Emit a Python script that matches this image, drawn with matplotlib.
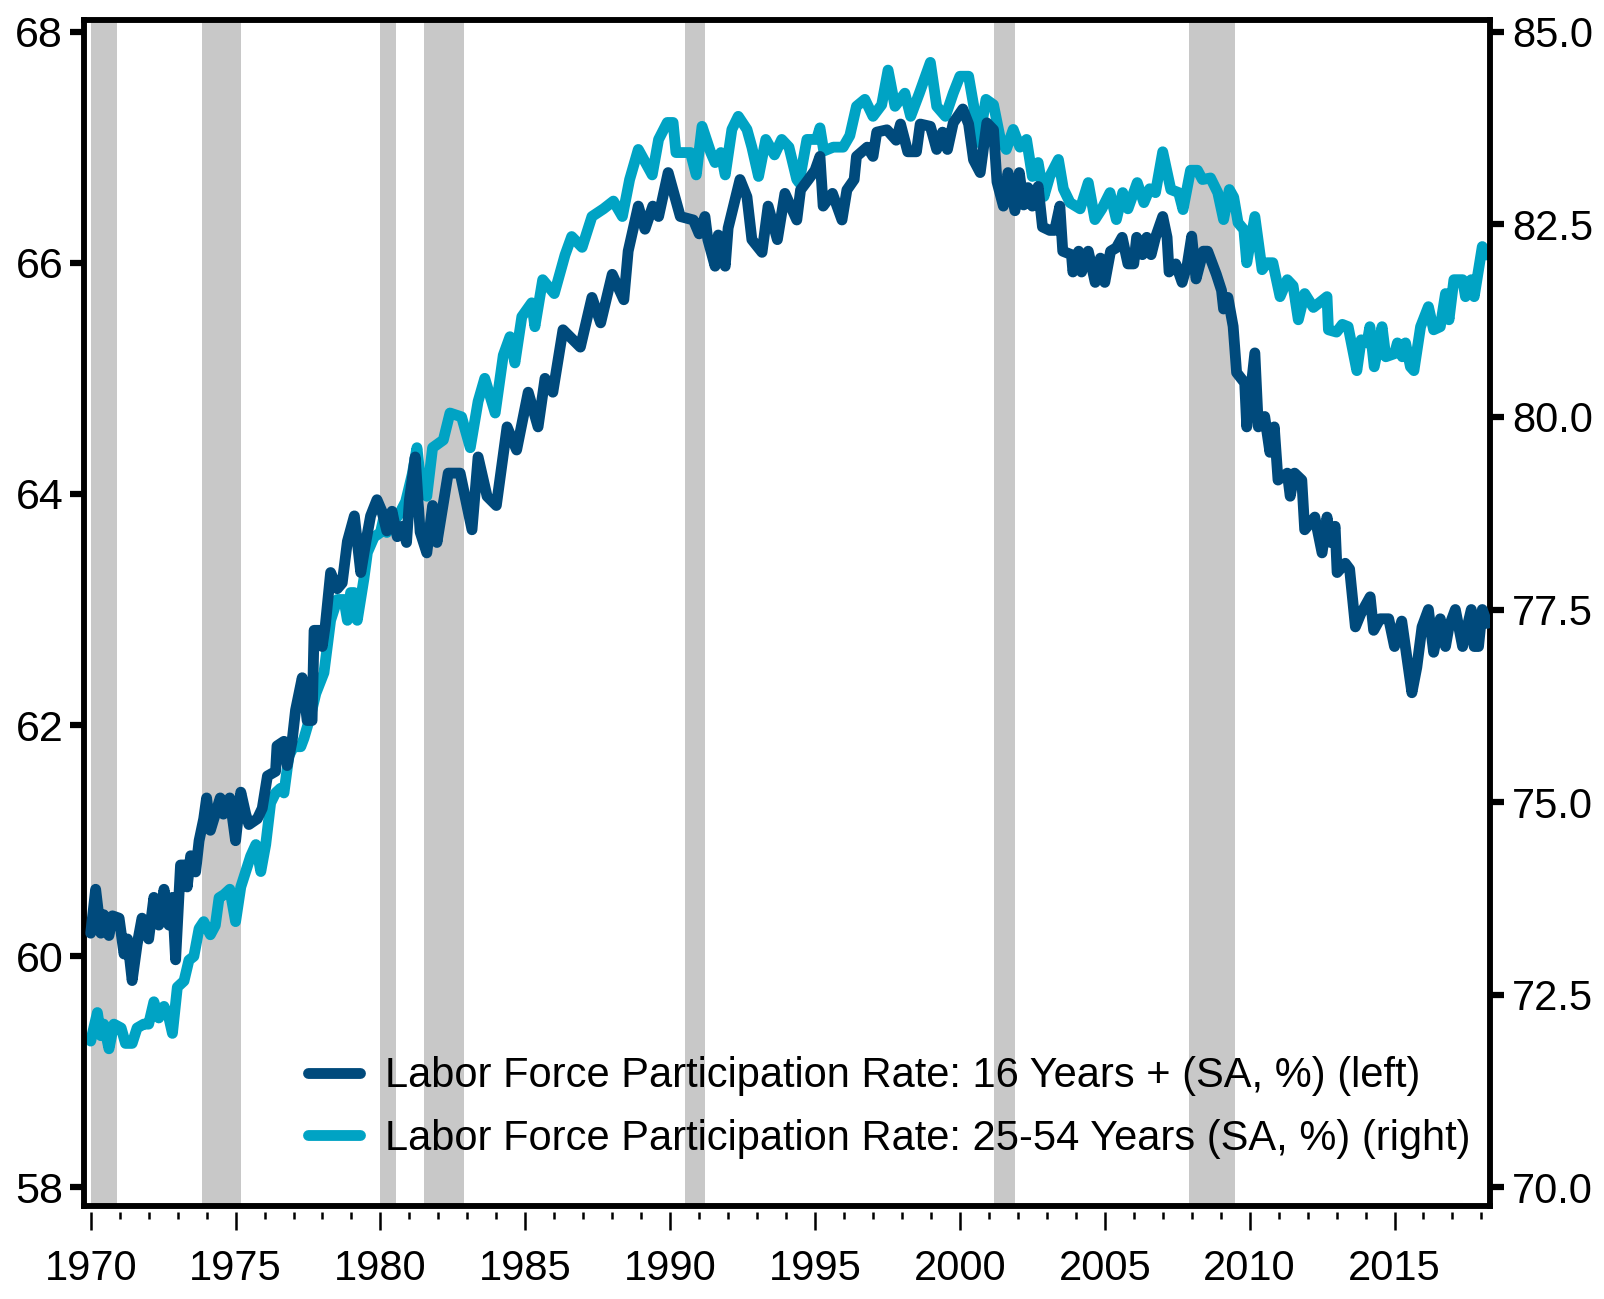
import numpy as np
import matplotlib
matplotlib.use('Agg')
import matplotlib.pyplot as plt
from matplotlib.ticker import MultipleLocator, FixedLocator, FormatStrFormatter

plt.rcParams['font.family'] = ['Liberation Sans', 'DejaVu Sans']

# labor force participation rate, 16 years + (left axis)
lfpr_all_years = [
    1970.0, 1970.17, 1970.35, 1970.45, 1970.63, 1970.75, 1970.98, 1971.15, 1971.27, 1971.43,
    1971.6, 1971.77, 1972.0, 1972.18, 1972.35, 1972.53, 1972.7, 1972.82, 1972.93, 1973.1,
    1973.27, 1973.33, 1973.45, 1973.62, 1973.74, 1973.9, 1974.0, 1974.13, 1974.3, 1974.47,
    1974.58, 1974.8, 1975.0, 1975.18, 1975.35, 1975.46, 1975.75, 1975.92, 1976.1, 1976.38,
    1976.43, 1976.67, 1976.78, 1976.95, 1977.07, 1977.3, 1977.47, 1977.64, 1977.71, 1977.88,
    1977.99, 1978.1, 1978.28, 1978.51, 1978.68, 1978.86, 1979.1, 1979.2, 1979.32, 1979.5,
    1979.66, 1979.88, 1980.05, 1980.22, 1980.4, 1980.58, 1980.75, 1980.9, 1981.0, 1981.2,
    1981.37, 1981.6, 1981.8, 1981.95, 1982.34, 1982.75, 1983.16, 1983.37, 1983.68, 1984.0,
    1984.37, 1984.7, 1985.1, 1985.44, 1985.68, 1985.95, 1986.3, 1986.9, 1987.3, 1987.6,
    1988.0, 1988.4, 1988.55, 1988.9, 1989.13, 1989.4, 1989.6, 1989.93, 1990.35, 1990.8,
    1991.0, 1991.2, 1991.3, 1991.55, 1991.66, 1991.9, 1992.0, 1992.41, 1992.65, 1992.82,
    1993.17, 1993.38, 1993.7, 1993.96, 1994.37, 1994.5, 1994.77, 1995.0, 1995.17, 1995.28,
    1995.6, 1995.93, 1996.1, 1996.35, 1996.43, 1996.8, 1997.0, 1997.13, 1997.48, 1997.8,
    1997.95, 1998.2, 1998.5, 1998.63, 1998.98, 1999.2, 1999.4, 1999.57, 1999.77, 2000.1,
    2000.3, 2000.47, 2000.7, 2000.93, 2001.16, 2001.28, 2001.5, 2001.66, 2001.9, 2002.05,
    2002.2, 2002.35, 2002.5, 2002.7, 2002.85, 2003.1, 2003.27, 2003.45, 2003.55, 2003.85,
    2003.9, 2004.1, 2004.2, 2004.43, 2004.67, 2004.85, 2005.0, 2005.2, 2005.4, 2005.6,
    2005.8, 2006.0, 2006.1, 2006.3, 2006.45, 2006.6, 2006.75, 2007.0, 2007.15, 2007.22,
    2007.45, 2007.67, 2007.85, 2008.0, 2008.15, 2008.4, 2008.55, 2008.85, 2009.03, 2009.1,
    2009.25, 2009.43, 2009.55, 2009.83, 2009.9, 2010.18, 2010.3, 2010.52, 2010.7, 2010.85,
    2010.98, 2011.3, 2011.4, 2011.55, 2011.8, 2011.9, 2012.25, 2012.5, 2012.67, 2012.8,
    2012.95, 2013.02, 2013.3, 2013.45, 2013.65, 2013.83, 2014.16, 2014.28, 2014.5, 2014.8,
    2015.0, 2015.25, 2015.42, 2015.6, 2015.77, 2015.95, 2016.17, 2016.35, 2016.58, 2016.76,
    2016.88, 2017.1, 2017.35, 2017.65, 2017.75, 2017.9, 2018.03, 2018.2]
lfpr_all = [
    60.2, 60.58, 60.2, 60.36, 60.18, 60.35, 60.33, 60.02, 60.15, 59.79,
    60.1, 60.33, 60.15, 60.51, 60.27, 60.58, 60.27, 60.51, 59.97, 60.79,
    60.79, 60.6, 60.87, 60.73, 61.0, 61.19, 61.37, 61.09, 61.23, 61.37,
    61.23, 61.37, 61.0, 61.42, 61.23, 61.14, 61.19, 61.28, 61.56, 61.6,
    61.82, 61.86, 61.65, 61.86, 62.13, 62.41, 62.04, 62.04, 62.82, 62.82,
    62.68, 62.87, 63.32, 63.18, 63.23, 63.59, 63.81, 63.59, 63.32, 63.59,
    63.81, 63.95, 63.85, 63.68, 63.85, 63.63, 63.72, 63.58, 63.95, 64.32,
    63.67, 63.49, 63.9, 63.58, 64.18, 64.18, 63.69, 64.32, 63.98, 63.9,
    64.58, 64.38, 64.88, 64.58, 65.0, 64.88, 65.42, 65.27, 65.7, 65.48,
    65.9, 65.68, 66.1, 66.49, 66.29, 66.49, 66.4, 66.78, 66.4, 66.37,
    66.25, 66.4, 66.2, 65.97, 66.24, 65.97, 66.3, 66.72, 66.57, 66.2,
    66.09, 66.49, 66.2, 66.6, 66.37, 66.63, 66.72, 66.8, 66.92, 66.49,
    66.6, 66.37, 66.63, 66.72, 66.92, 67.0, 66.92, 67.13, 67.15, 67.06,
    67.2, 66.96, 66.96, 67.2, 67.18, 66.98, 67.13, 66.98, 67.21, 67.33,
    67.2, 66.89, 66.78, 67.21, 67.15, 66.7, 66.49, 66.78, 66.45, 66.78,
    66.5, 66.65, 66.49, 66.66, 66.31, 66.28, 66.28, 66.49, 66.1, 66.07,
    65.92, 66.1, 65.92, 66.1, 65.83, 66.04, 65.83, 66.1, 66.13, 66.22,
    65.99, 65.99, 66.22, 66.07, 66.22, 66.07, 66.22, 66.4, 66.22, 65.92,
    65.99, 65.83, 65.99, 66.23, 65.86, 66.1, 66.1, 65.9, 65.76, 65.6,
    65.7, 65.45, 65.05, 64.96, 64.58, 65.22, 64.58, 64.67, 64.36, 64.58,
    64.12, 64.18, 63.98, 64.18, 64.12, 63.69, 63.8, 63.49, 63.8, 63.58,
    63.72, 63.32, 63.4, 63.35, 62.85, 62.96, 63.11, 62.82, 62.92, 62.92,
    62.68, 62.9, 62.6, 62.28, 62.5, 62.85, 63.0, 62.63, 62.92, 62.68,
    62.85, 63.0, 62.68, 63.0, 62.68, 62.68, 63.0, 62.88]

# labor force participation rate, 25-54 years (right axis)
lfpr_prime_years = [
    1970.0, 1970.23, 1970.35, 1970.45, 1970.63, 1970.8, 1971.05, 1971.2, 1971.43, 1971.6,
    1971.83, 1972.0, 1972.18, 1972.35, 1972.53, 1972.7, 1972.82, 1972.99, 1973.22, 1973.39,
    1973.56, 1973.74, 1973.9, 1974.13, 1974.3, 1974.43, 1974.6, 1974.8, 1975.0, 1975.18,
    1975.35, 1975.52, 1975.7, 1975.87, 1976.04, 1976.21, 1976.38, 1976.55, 1976.67, 1976.84,
    1977.0, 1977.25, 1977.36, 1977.6, 1977.77, 1978.05, 1978.28, 1978.51, 1978.74, 1978.86,
    1978.97, 1979.09, 1979.2, 1979.43, 1979.55, 1979.78, 1980.0, 1980.12, 1980.22, 1980.45,
    1980.68, 1980.87, 1981.1, 1981.26, 1981.4, 1981.6, 1981.8, 1982.17, 1982.4, 1982.8,
    1983.1, 1983.37, 1983.6, 1983.96, 1984.24, 1984.47, 1984.64, 1984.88, 1985.22, 1985.33,
    1985.6, 1986.0, 1986.37, 1986.6, 1986.96, 1987.3, 1987.7, 1988.04, 1988.35, 1988.6,
    1988.9, 1989.38, 1989.6, 1989.9, 1990.1, 1990.2, 1990.7, 1990.9, 1991.1, 1991.4,
    1991.55, 1991.75, 1991.9, 1992.13, 1992.35, 1992.65, 1992.82, 1993.05, 1993.3, 1993.6,
    1993.85, 1994.1, 1994.37, 1994.45, 1994.72, 1995.05, 1995.17, 1995.3, 1995.63, 1995.97,
    1996.2, 1996.43, 1996.72, 1997.0, 1997.3, 1997.52, 1997.76, 1998.1, 1998.3, 1998.6,
    1998.98, 1999.2, 1999.5, 1999.77, 2000.0, 2000.3, 2000.47, 2000.65, 2000.9, 2001.16,
    2001.4, 2001.6, 2001.84, 2002.07, 2002.3, 2002.5, 2002.7, 2002.9, 2003.1, 2003.4,
    2003.57, 2003.8, 2004.15, 2004.43, 2004.66, 2004.9, 2005.18, 2005.4, 2005.62, 2005.8,
    2006.12, 2006.35, 2006.55, 2006.75, 2007.0, 2007.28, 2007.55, 2007.7, 2007.96, 2008.2,
    2008.37, 2008.65, 2008.9, 2009.1, 2009.3, 2009.45, 2009.6, 2009.8, 2009.9, 2010.18,
    2010.43, 2010.6, 2010.8, 2011.05, 2011.3, 2011.5, 2011.68, 2011.9, 2012.2, 2012.67,
    2012.72, 2013.0, 2013.2, 2013.4, 2013.7, 2013.85, 2014.05, 2014.15, 2014.3, 2014.57,
    2014.7, 2015.0, 2015.1, 2015.27, 2015.38, 2015.55, 2015.67, 2015.9, 2016.17, 2016.35,
    2016.58, 2016.76, 2016.88, 2017.05, 2017.35, 2017.45, 2017.65, 2017.75, 2017.9, 2018.03,
    2018.2]
lfpr_prime = [
    71.9, 72.27, 71.97, 72.12, 71.8, 72.12, 72.07, 71.87, 71.87, 72.07,
    72.12, 72.12, 72.41, 72.2, 72.35, 72.2, 72.0, 72.6, 72.68, 72.95,
    73.0, 73.36, 73.45, 73.28, 73.4, 73.76, 73.8, 73.87, 73.45, 73.9,
    74.1, 74.3, 74.45, 74.1, 74.45, 74.99, 75.12, 75.18, 75.12, 75.6,
    75.72, 75.72, 75.83, 76.14, 76.41, 76.68, 77.36, 77.63, 77.63, 77.36,
    77.72, 77.72, 77.36, 77.9, 78.24, 78.44, 78.5, 78.7, 78.5, 78.63,
    78.76, 78.9, 79.26, 79.6, 79.12, 78.97, 79.6, 79.7, 80.05, 80.0,
    79.6, 80.2, 80.5, 80.05, 80.8, 81.04, 80.7, 81.3, 81.48, 81.17,
    81.78, 81.6, 82.1, 82.34, 82.2, 82.6, 82.7, 82.8, 82.6, 83.08,
    83.47, 83.14, 83.6, 83.82, 83.82, 83.43, 83.43, 83.14, 83.77, 83.43,
    83.3, 83.43, 83.14, 83.73, 83.9, 83.73, 83.5, 83.12, 83.6, 83.4,
    83.6, 83.5, 83.08, 83.04, 83.6, 83.6, 83.75, 83.45, 83.5, 83.5,
    83.65, 84.03, 84.12, 83.9, 84.05, 84.5, 84.03, 84.2, 83.9, 84.2,
    84.6, 84.03, 83.9, 84.2, 84.42, 84.42, 84.05, 83.56, 84.12, 84.05,
    83.6, 83.47, 83.73, 83.5, 83.6, 83.12, 83.3, 82.86, 83.12, 83.34,
    82.96, 82.78, 82.7, 83.04, 82.56, 82.7, 82.91, 82.56, 82.91, 82.7,
    83.04, 82.78, 82.96, 82.91, 83.44, 82.95, 82.91, 82.69, 83.2, 83.2,
    83.08, 83.1, 82.91, 82.56, 82.95, 82.85, 82.52, 82.43, 82.0, 82.6,
    81.91, 82.0, 82.0, 81.56, 81.78, 81.7, 81.26, 81.6, 81.42, 81.56,
    81.13, 81.1, 81.2, 81.17, 80.6, 81.0, 80.96, 81.17, 80.65, 81.17,
    80.78, 80.82, 80.96, 80.78, 80.96, 80.65, 80.6, 81.17, 81.43, 81.13,
    81.17, 81.6, 81.26, 81.78, 81.78, 81.56, 81.78, 81.56, 81.91, 82.21,
    82.1]

# NBER recessions (start, end) as year fractions
recessions = [(1970.0, 1970.9), (1973.85, 1975.2), (1980.0, 1980.55),
              (1981.5, 1982.9), (1990.5, 1991.2), (2001.17, 2001.9), (2007.9, 2009.5)]

year_ticks = [1970, 1975, 1980, 1985, 1990, 1995, 2000, 2005, 2010, 2015]
year_minor = list(range(1970, 2019))

labels = ['Labor Force Participation Rate: 16 Years + (SA, %) (left)',
          'Labor Force Participation Rate: 25-54 Years (SA, %) (right)']
dark = '#004a7c'
light = '#00a3c4'

fig = plt.figure(figsize=(16.04, 12.99), dpi=100)
ax = fig.add_axes([0.0524, 0.0716, 0.8766, 0.913])
ax2 = ax.twinx()
# dark line must sit above the light one
ax.set_zorder(ax2.get_zorder() + 1)
ax.patch.set_visible(False)

for s, e in recessions:
    ax2.axvspan(s, e, color='#c8c8c8', lw=0, zorder=0)

l2, = ax2.plot(lfpr_prime_years, lfpr_prime, color=light, lw=7.8,
               solid_capstyle='round', solid_joinstyle='round', zorder=2)
l1, = ax.plot(lfpr_all_years, lfpr_all, color=dark, lw=7.8,
              solid_capstyle='round', solid_joinstyle='round', zorder=3)

ax.set_xlim(1969.77, 2018.3)
ax.set_ylim(57.84, 68.1)
ax2.set_ylim(69.76, 85.15)

ax.yaxis.set_major_locator(MultipleLocator(2))
ax2.yaxis.set_major_locator(MultipleLocator(2.5))
ax2.yaxis.set_major_formatter(FormatStrFormatter('%.1f'))

for sp in ax.spines.values():
    sp.set_linewidth(4)
for sp in ax2.spines.values():
    sp.set_linewidth(4)

ax.tick_params(axis='y', direction='out', length=10, width=4.5, labelsize=31, pad=5)
ax2.tick_params(axis='y', direction='out', length=10, width=4.5, labelsize=30, pad=6)

# x ticks drawn a little below the spine
ax.tick_params(axis='x', which='both', bottom=False, labelbottom=False)
sec = ax.secondary_xaxis(-0.005)
sec.spines['bottom'].set_visible(False)
sec.xaxis.set_major_locator(FixedLocator(year_ticks))
sec.xaxis.set_minor_locator(FixedLocator(year_minor))
sec.tick_params(axis='x', which='major', length=13, width=1.8, labelsize=30, pad=14)
sec.tick_params(axis='x', which='minor', length=5, width=1.8)

ax.legend([l1, l2], labels, loc='center right', bbox_to_anchor=(0.998, 0.083),
          frameon=False, fontsize=30, handlelength=1.25, handletextpad=0.6,
          labelspacing=0.55, borderaxespad=0.0)

fig.savefig('out.png', dpi=100)
